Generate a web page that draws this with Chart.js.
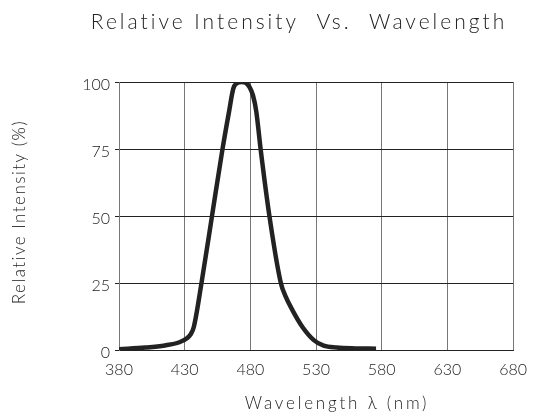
<!DOCTYPE html>
<html>
<head>
<meta charset="utf-8">
<title>Relative Intensity Vs. Wavelength</title>
<script src="https://cdn.jsdelivr.net/npm/chart.js@4.4.1/dist/chart.umd.min.js"></script>
<style>
  html, body { margin: 0; padding: 0; background: #fff; }
  canvas { display: block; }
</style>
</head>
<body>
<canvas id="myChart" width="537" height="416"></canvas>
<script>
const chartTitle = "Relative Intensity  Vs.  Wavelength";
const xTitle = "Wavelength λ (nm)";
const yTitle = "Relative Intensity (%)";

// spectrum
const wavelength = [380, 400, 415, 426, 432, 434.5, 437, 442.8, 450.8, 458.8, 463.8, 467, 469.5, 473.5, 476.5, 479.5, 482, 484.5, 487.8, 494.5, 503.2, 507, 512, 519.5, 528.3, 535.8, 545.7, 560, 575.7];
const intensity = [0.3, 0.9, 1.7, 2.9, 4.5, 5.8, 8.7, 25, 50, 75, 89, 97.5, 99.5, 100, 99.7, 98, 95, 89, 75, 50, 25, 19.8, 14.9, 8.7, 3.7, 1.6, 0.9, 0.6, 0.5];

const xTicks = [380, 430, 480, 530, 580, 630, 680];
const yTicks = [0, 25, 50, 75, 100];

const points = wavelength.map((w, i) => ({ x: w, y: intensity[i] }));

const ctx = document.getElementById("myChart").getContext("2d");

const freeTitles = {
  id: "freeTitles",
  afterDraw(chart) {
    const c = chart.ctx;
    c.save();
    c.fillStyle = "#222";
    c.textAlign = "center";
    c.textBaseline = "middle";
    c.letterSpacing = "3px";
    c.font = "300 21px Lato";
    c.fillText(chartTitle, 299, 22);
    c.letterSpacing = "2.8px";
    c.font = "300 17px Lato";
    c.fillText(xTitle, 337, 404);
    c.letterSpacing = "1.5px";
    c.translate(20, 212);
    c.rotate(-Math.PI / 2);
    c.fillText(yTitle, 0, 0);
    c.restore();
  },
};

const myChart = new Chart(ctx, {
  type: "line",
  data: {
    datasets: [
      {
        label: "Relative Intensity",
        data: points,
        borderColor: "#222",
        borderWidth: 4.5,
        pointRadius: 0,
        fill: false,
        cubicInterpolationMode: "monotone",
      },
    ],
  },
  options: {
    responsive: false,
    animation: false,
    layout: { padding: { top: 82, right: 18, left: 0, bottom: 0 } },
    plugins: {
      legend: { display: false },
      title: { display: false },
      tooltip: { enabled: false },
    },
    scales: {
      x: {
        type: "linear",
        min: 380,
        max: 680,
        afterBuildTicks: (scale) => {
          scale.ticks = xTicks.map((v) => ({ value: v }));
        },
        afterFit: (scale) => {
          scale.height = 66;
        },
        grid: { color: "#777", lineWidth: 1, tickLength: 0 },
        border: { color: "#222", width: 1 },
        ticks: { color: "#222", padding: 10, font: { family: "Lato", size: 16, weight: "300" } },
      },
      y: {
        min: 0,
        max: 100,
        afterBuildTicks: (scale) => {
          scale.ticks = yTicks.map((v) => ({ value: v }));
        },
        afterFit: (scale) => {
          scale.width = 119;
        },
        grid: { color: "#222", lineWidth: 1, tickLength: 4 },
        border: { color: "#777", width: 1 },
        ticks: { color: "#222", padding: 5, labelOffset: 3, font: { family: "Lato", size: 16, weight: "300" } },
      },
    },
  },
  plugins: [freeTitles],
});
</script>
</body>
</html>
